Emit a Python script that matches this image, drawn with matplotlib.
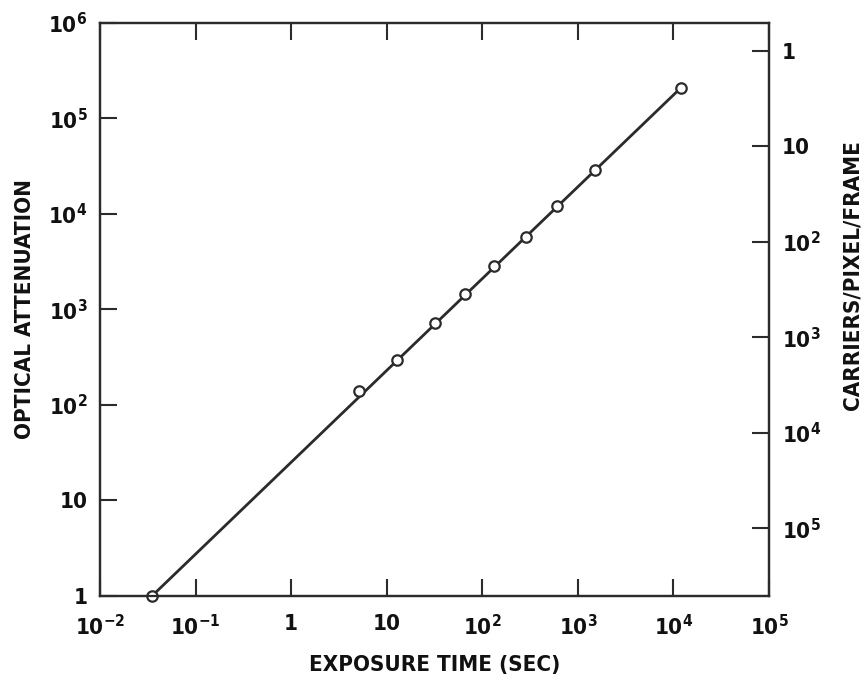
import math
import matplotlib
matplotlib.use("Agg")
from matplotlib import pyplot as plt
from matplotlib import ticker

plt.rcParams['font.family'] = ['DejaVu Sans']
plt.rcParams['font.stretch'] = 'condensed'
plt.rcParams['font.weight'] = 'bold'
plt.rcParams['mathtext.default'] = 'regular'

# measured points (exposure time in sec, optical attenuation)
exposure = [0.035, 5.1, 12.8, 32, 66, 134, 290, 610, 1500, 12000]
attenuation = [1, 139, 295, 720, 1440, 2820, 5700, 12000, 29000, 210000]

# straight fitted line drawn through the data
fit_x = [0.035, 12000]
fit_y = [1, 210000]

# carriers/pixel/frame = K / attenuation
K = 5.1e5

# decade ticks on each axis
x_ticks = [1e-2, 1e-1, 1, 10, 1e2, 1e3, 1e4, 1e5]
y_ticks = [1, 10, 1e2, 1e3, 1e4, 1e5, 1e6]
right_ticks = [1, 10, 1e2, 1e3, 1e4, 1e5]

ink = '#2b2b2b'
txt = '#111111'

def power_label(v, pos):
    e = int(round(math.log10(v)))
    if e == 0:
        return '1'
    if e == 1:
        return '10'
    return r'$\mathregular{10^{%d}}$' % e

fig = plt.figure(figsize=(8.67, 6.86), dpi=100)
ax = fig.add_axes([0.1153, 0.1312, 0.7717, 0.8353])

ax.plot(fit_x, fit_y, color=ink, lw=2.0, zorder=2)
ax.plot(exposure, attenuation, 'o', ms=7.5, mfc='white', mec=ink, mew=1.6, zorder=3, clip_on=False)

ax.set_xscale('log')
ax.set_yscale('log')
ax.set_xlim(1e-2, 1e5)
ax.set_ylim(1, 1e6)

# right axis: same heights, expressed as carriers/pixel/frame (inverted)
ax2 = ax.twinx()
ax2.set_yscale('log')
ax2.set_ylim(K / 1, K / 1e6)

for a in (ax, ax2):
    for s in a.spines.values():
        s.set_linewidth(1.6)
        s.set_color(ink)

for axis, t in ((ax.xaxis, x_ticks), (ax.yaxis, y_ticks), (ax2.yaxis, right_ticks)):
    axis.set_major_locator(ticker.FixedLocator(t))
    axis.set_minor_locator(ticker.NullLocator())
    axis.set_major_formatter(ticker.FuncFormatter(power_label))

ax.tick_params(which='major', direction='in', length=12, width=1.5, color=ink,
               labelsize=16, labelcolor=txt, top=True, right=False, pad=9)
ax.tick_params(axis='x', pad=13)
ax2.tick_params(which='major', direction='in', length=12, width=1.5, color=ink,
                labelsize=16, labelcolor=txt, pad=9)

ax.set_xlabel('EXPOSURE TIME (SEC)', fontsize=16, fontweight='bold', color=txt, va='center')
ax.xaxis.set_label_coords(0.5, -0.12)
ax.set_ylabel('OPTICAL ATTENUATION', fontsize=16, fontweight='bold', color=txt, va='center')
ax.yaxis.set_label_coords(-0.112, 0.5)
ax2.set_ylabel('CARRIERS/PIXEL/FRAME', fontsize=16, fontweight='bold', color=txt, va='center')
ax2.yaxis.set_label_coords(1.125, 0.56)

fig.savefig('out.png', dpi=100)
